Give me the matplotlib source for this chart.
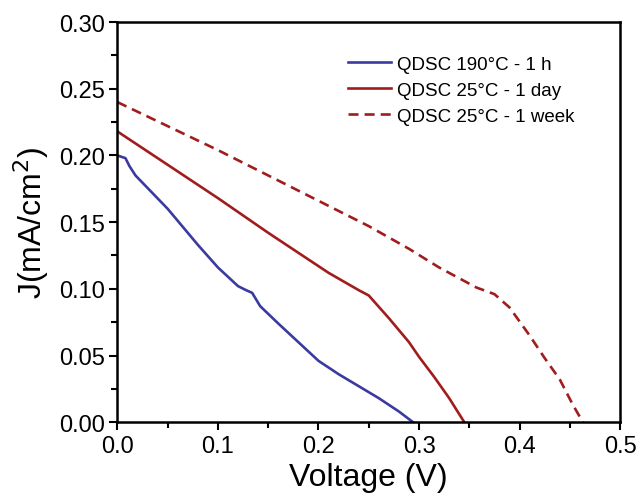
import numpy as np
import matplotlib
matplotlib.use("Agg")
import matplotlib.pyplot as plt
from matplotlib.ticker import MultipleLocator

plt.rcParams['font.family'] = ['Liberation Sans', 'DejaVu Sans']

# QDSC 190C - 1 h
v_190 = [0.0, 0.008, 0.012, 0.018, 0.05, 0.08, 0.10, 0.12, 0.128, 0.134, 0.142,
         0.16, 0.18, 0.20, 0.22, 0.24, 0.26, 0.28, 0.294]
j_190 = [0.200, 0.198, 0.192, 0.185, 0.160, 0.133, 0.116, 0.102, 0.099, 0.097, 0.087,
         0.074, 0.060, 0.046, 0.036, 0.027, 0.018, 0.008, 0.0]

# QDSC 25C - 1 day
v_day = [0.0, 0.05, 0.10, 0.15, 0.21, 0.24, 0.25, 0.27, 0.29, 0.30, 0.315, 0.33, 0.345]
j_day = [0.218, 0.193, 0.168, 0.142, 0.112, 0.099, 0.095, 0.078, 0.060, 0.049, 0.034, 0.018, 0.0]

# QDSC 25C - 1 week
v_week = [0.0, 0.05, 0.10, 0.15, 0.20, 0.25, 0.29, 0.32, 0.357, 0.375, 0.39, 0.41,
          0.425, 0.44, 0.453, 0.463]
j_week = [0.240, 0.222, 0.204, 0.185, 0.166, 0.147, 0.130, 0.116, 0.101, 0.096, 0.086, 0.065,
          0.048, 0.032, 0.013, 0.0]

blue = '#3a3aa0'
red = '#a11c1c'

fig = plt.figure(figsize=(6.38, 5.02), dpi=100)
ax = fig.add_axes([0.184, 0.157, 0.788, 0.797])

ax.plot(v_190, j_190, color=blue, lw=1.9, label='QDSC 190°C - 1 h')
ax.plot(v_day, j_day, color=red, lw=1.9, label='QDSC 25°C - 1 day')
ax.plot(v_week, j_week, color=red, lw=1.9, ls=(0, (3.8, 2.3)), label='QDSC 25°C - 1 week')

ax.set_xlim(0, 0.5)
ax.set_ylim(0, 0.30)
ax.xaxis.set_major_locator(MultipleLocator(0.1))
ax.xaxis.set_minor_locator(MultipleLocator(0.05))
ax.yaxis.set_major_locator(MultipleLocator(0.05))
ax.yaxis.set_minor_locator(MultipleLocator(0.025))
ax.xaxis.set_major_formatter(matplotlib.ticker.FormatStrFormatter('%.1f'))
ax.yaxis.set_major_formatter(matplotlib.ticker.FormatStrFormatter('%.2f'))
ax.tick_params(which='major', direction='out', length=6, width=1.5, labelsize=17, pad=3)
ax.tick_params(which='minor', direction='out', length=4, width=1.5)
for s in ax.spines.values():
	s.set_linewidth(1.8)

ax.set_xlabel('Voltage (V)', fontsize=23, labelpad=4)
ax.set_ylabel('J(mA/cm$^2$)', fontsize=23, labelpad=6)

ax.legend(loc='upper left', bbox_to_anchor=(0.44, 0.94), frameon=False, fontsize=13.5,
	borderpad=0, handlelength=2.3, handletextpad=0.3, labelspacing=0.48)

fig.savefig('out.png', dpi=100)
